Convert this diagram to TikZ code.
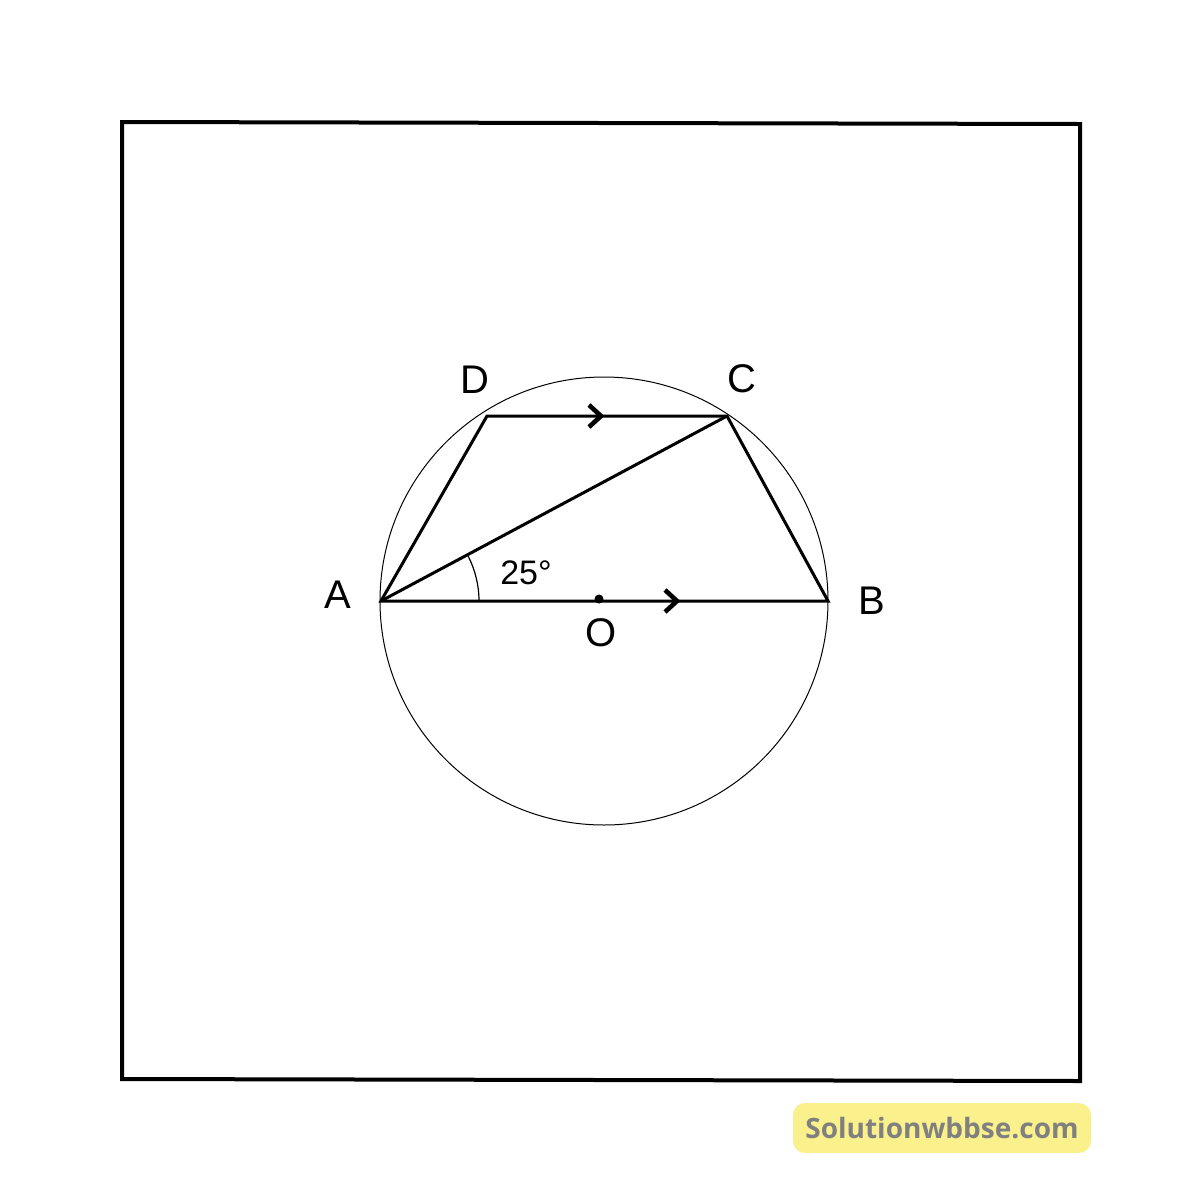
\documentclass[tikz,border=0pt]{standalone}
\usepackage{fontspec}
\setmainfont{Liberation Sans}
\newfontfamily\wmfont{Open Sans}
\begin{document}
\begin{tikzpicture}[x=0.5pt,y=-0.5pt,
  thick line/.style={line width=1.5pt, line join=miter},
  lbl/.style={font=\fontsize{20}{24}\selectfont, inner sep=0pt},
  chev/.style={line width=2.3pt, line join=miter}]
\useasboundingbox (0,0) rectangle (1200,1200);
% frame
\draw[line width=2pt, line join=miter] (122,122) -- (1080,124) -- (1080,1081) -- (122,1079) -- cycle;
% circle
\coordinate (O) at (604,601);
\draw[line width=0.5pt] (O) circle [radius=224];
% points
\coordinate (A) at (381,601);
\coordinate (B) at (828,601);
\coordinate (C) at (727,416);
\coordinate (D) at (487,416);
\draw[thick line] (A) -- (D) -- (C) -- (B) -- cycle;
\draw[thick line] (A) -- (C);
% angle arc
\draw[line width=0.6pt] ([shift={(0:98)}]A) arc [start angle=0, end angle=-28, radius=98];
% centre dot
\fill (599,599) circle [radius=4.5];
% parallel chevrons
\draw[chev] (589,405) -- (601,416) -- (589,427);
\draw[chev] (665,590) -- (677,601) -- (665,612);
% labels
\node[lbl] (lA) at (338,595) {A};
\node[lbl] (lB) at (872,601) {B};
\node[lbl] (lC) at (742,379) {C};
\node[lbl] (lD) at (475,380) {D};
\node[lbl] (lO) at (601,633) {O};
\node[font=\fontsize{17}{20}\selectfont, inner sep=0pt] (ang) at (526,573) {25°};
% watermark
\node[fill={rgb,255:red,250;green,241;blue,140}, rounded corners=6pt, minimum width=149pt, minimum height=25pt, inner sep=0pt,
  text={rgb,255:red,128;green,128;blue,128}, font=\wmfont\bfseries\fontsize{14}{16}\selectfont] (wm) at (942,1128) {Solutionwbbse.com};
\end{tikzpicture}
\end{document}
